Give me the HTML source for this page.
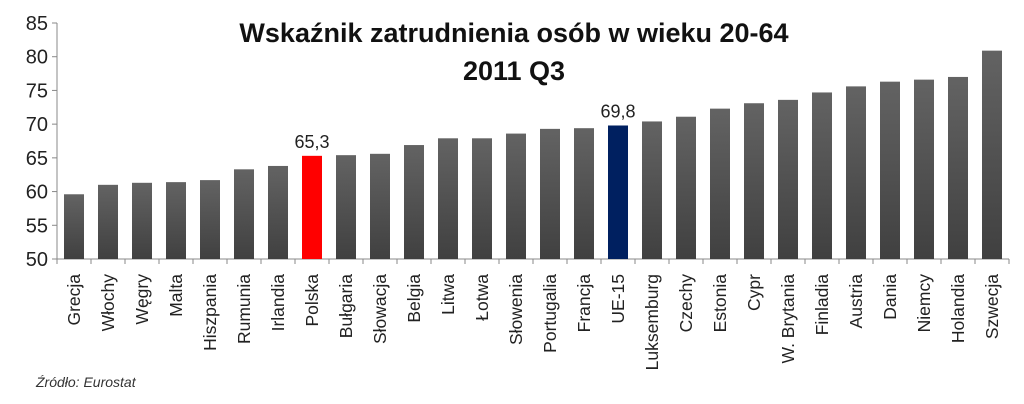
<!DOCTYPE html>
<html><head><meta charset="utf-8"><style>
body{margin:0;background:#fff;}
svg{display:block;font-family:"Liberation Sans",sans-serif;}
</style></head><body>
<svg id="chart" width="1024" height="404" viewBox="0 0 1024 404" xmlns="http://www.w3.org/2000/svg">
<defs><linearGradient id="g" x1="0" y1="0" x2="0" y2="1"><stop offset="0" stop-color="#636363"/><stop offset="1" stop-color="#404040"/></linearGradient></defs>
<text x="514" y="42" text-anchor="middle" font-size="27" font-weight="bold" fill="#111">Wskaźnik zatrudnienia osób w wieku 20-64</text>
<text x="514" y="80" text-anchor="middle" font-size="27" font-weight="bold" fill="#111">2011 Q3</text>
<text x="36" y="387" font-size="14" font-style="italic" fill="#333">Źródło: Eurostat</text>
<g id="plot"></g>
</svg>
<script>
const categories=["Grecja","Włochy","Węgry","Malta","Hiszpania","Rumunia","Irlandia","Polska","Bułgaria","Słowacja","Belgia","Litwa","Łotwa","Słowenia","Portugalia","Francja","UE-15","Luksemburg","Czechy","Estonia","Cypr","W. Brytania","Finladia","Austria","Dania","Niemcy","Holandia","Szwecja"];
const values=[59.6,61.0,61.3,61.4,61.7,63.3,63.8,65.3,65.4,65.6,66.9,67.9,67.9,68.6,69.3,69.4,69.8,70.4,71.1,72.3,73.1,73.6,74.7,75.6,76.3,76.6,77.0,80.9];
const yTicks=[50,55,60,65,70,75,80,85];
const highlight={"Polska":"#ff0000","UE-15":"#002060"};
const labelled=["Polska","UE-15"];
const NS="http://www.w3.org/2000/svg";
const g=document.getElementById('plot');
const x0=57,x1=1009,y0=259,yTop=23,yMin=50,yMax=85;
const band=(x1-x0)/categories.length;
const y=v=>y0-(v-yMin)/(yMax-yMin)*(y0-yTop);
const xc=i=>x0+band*(i+0.5);
function mk(t,a){const e=document.createElementNS(NS,t);for(const k in a)e.setAttribute(k,a[k]);g.appendChild(e);return e;}
const ax=mk('line',{x1:x0,y1:yTop,x2:x0,y2:y0,stroke:'#888'});


const bx=mk('line',{x1:x0-4,y1:y0,x2:x1,y2:y0,stroke:'#888'});


yTicks.forEach(t=>{
 const l=mk('line',{x1:x0-5,y1:y(t),x2:x0,y2:y(t),stroke:'#888'});
 
 
 const tx=mk('text',{x:x0-9,y:y(t)+7,'text-anchor':'end','font-size':20,fill:'#222'});
 tx.textContent=t;
 
 
});
for(let i=0;i<=categories.length;i++){
 const l=mk('line',{x1:x0+band*i,y1:y0,x2:x0+band*i,y2:y0+5,stroke:'#888'});
 
 
}
categories.forEach((c,i)=>{
 const v=values[i];
 const r=mk('rect',{x:xc(i)-10,y:y(v),width:20,height:y0-y(v),fill:highlight[c]||'url(#g)'});
 
 
 const t=mk('text',{transform:`translate(${xc(i)+6},274) rotate(-90)`,'text-anchor':'end','font-size':17.5,fill:'#222'});
 t.textContent=c;
 
 
 if(labelled.includes(c)){
  const d=mk('text',{x:xc(i),y:y(v)-8,'text-anchor':'middle','font-size':18,fill:'#222'});
  d.textContent=v.toFixed(1).replace('.',',');
  
  
 }
});
</script>
</body></html>
